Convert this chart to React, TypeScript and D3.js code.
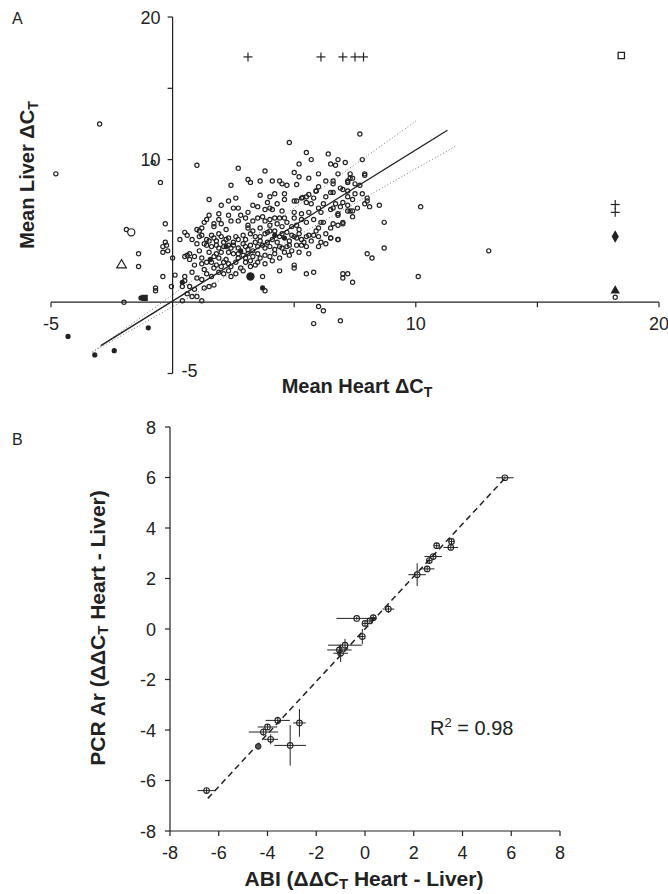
import * as d3 from 'd3';

// ---- Panel A: mean heart vs mean liver delta Ct ----
const openPoints: [number, number][] = [
  [4.8, 11.2], [5.5, 10.5], [6.4, 10.4], [5.7, 10.0], [5.2, 9.7], [6.5, 9.7], [6.7, 9.6], [7.1, 9.8],
  [1.0, 9.6], [2.7, 9.4], [3.8, 9.2], [5.0, 9.1], [6.0, 9.0], [7.3, 9.0], [3.1, 8.6], [3.2, 8.4],
  [3.6, 8.5], [4.1, 8.5], [4.4, 8.5], [4.5, 8.3], [6.3, 8.5], [6.6, 8.5], [7.2, 8.5], [2.4, 8.2],
  [4.7, 8.2], [6.0, 8.1], [6.5, 7.7], [6.6, 7.7], [7.0, 7.9], [5.9, 7.8], [3.6, 7.5], [4.0, 7.4],
  [4.2, 7.6], [4.6, 7.6], [4.6, 7.2], [1.5, 7.2], [2.3, 7.1], [2.6, 7.3], [3.3, 6.8], [3.5, 6.7],
  [2.7, 6.6], [3.8, 6.5], [4.0, 6.6], [4.1, 6.5], [5.0, 7.1], [5.1, 7.1], [5.3, 7.3], [5.5, 7.4],
  [5.5, 7.0], [5.8, 7.3], [5.7, 6.9], [6.2, 6.9], [6.7, 6.9], [7.0, 7.0], [7.2, 6.8], [7.3, 6.4],
  [5.0, 6.3], [5.3, 6.2], [6.1, 6.3], [6.5, 6.5], [6.8, 6.1], [1.9, 6.2], [2.3, 6.1], [1.5, 6.1],
  [1.4, 5.8], [1.3, 5.6], [1.7, 5.5], [2.0, 5.5], [2.4, 5.7], [2.7, 5.7], [3.1, 5.4], [3.1, 5.2],
  [3.3, 5.7], [3.5, 5.9], [3.7, 6.0], [3.8, 5.7], [4.0, 5.8], [4.2, 5.9], [4.4, 5.9], [4.6, 5.9],
  [4.7, 5.6], [4.9, 5.3], [5.1, 5.4], [5.5, 5.6], [5.8, 5.8], [6.1, 5.6], [6.2, 5.6], [6.6, 5.5],
  [7.0, 5.5], [1.0, 5.1], [0.5, 4.9], [0.6, 4.7], [0.3, 4.4], [1.1, 4.6], [1.2, 4.7], [1.4, 4.4],
  [1.5, 4.3], [1.7, 4.5], [1.8, 4.3], [2.0, 4.6], [2.3, 4.5], [2.5, 4.2], [2.7, 4.4], [2.9, 4.7],
  [3.2, 4.8], [3.3, 5.0], [3.4, 4.6], [3.6, 4.6], [3.8, 4.8], [3.9, 4.9], [4.0, 5.0], [4.2, 5.0],
  [4.4, 4.6], [4.5, 4.8], [4.7, 4.9], [4.8, 4.3], [5.0, 4.6], [5.1, 4.5], [5.3, 4.4], [5.5, 4.6],
  [5.6, 4.7], [5.8, 4.7], [6.0, 4.6], [6.1, 4.2], [6.3, 4.1], [6.5, 4.5], [6.8, 4.4], [6.0, 3.9],
  [1.3, 4.1], [1.4, 4.0], [1.6, 3.9], [1.8, 4.0], [1.9, 3.8], [2.1, 3.9], [2.3, 4.0], [2.4, 3.8],
  [2.5, 4.0], [2.7, 3.8], [3.0, 3.9], [3.2, 4.0], [3.5, 3.9], [3.7, 4.0], [3.8, 3.8], [4.0, 3.9],
  [4.2, 3.7], [4.5, 3.8], [4.7, 3.9], [4.9, 3.6], [5.1, 4.0], [5.3, 4.0], [5.5, 3.9], [4.6, 3.5],
  [1.8, 3.4], [2.0, 3.5], [2.3, 3.5], [2.5, 3.4], [2.7, 3.4], [2.9, 3.3], [3.1, 3.4], [3.3, 3.2],
  [3.5, 3.4], [3.8, 3.3], [4.0, 3.2], [4.2, 3.4], [4.4, 3.1], [0.5, 3.2], [0.7, 3.4], [0.9, 3.2],
  [1.2, 3.1], [1.7, 3.2], [0.9, 2.6], [1.2, 2.7], [1.4, 2.8], [1.6, 2.8], [1.8, 2.6], [2.0, 2.5],
  [2.3, 2.7], [2.4, 2.5], [2.6, 2.8], [2.8, 2.4], [3.0, 2.8], [3.2, 2.9], [3.5, 2.8], [3.8, 2.7],
  [3.2, 2.5], [1.9, 2.1], [2.1, 2.0], [2.3, 2.2], [2.6, 2.0], [2.4, 1.8], [2.9, 2.2], [5.0, 2.6],
  [5.0, 2.4], [4.4, 2.2], [0.8, 2.1], [1.4, 2.0], [1.6, 1.8], [1.2, 1.6], [1.0, 1.7], [0.5, 1.8],
  [0.5, 1.5], [0.4, 1.1], [0.7, 1.1], [0.9, 0.9], [1.3, 1.0], [1.5, 1.1], [1.7, 1.2], [0.6, 0.6],
  [1.0, 0.4], [1.2, 0.1], [0.8, 0.4], [0.4, 0.1], [3.7, 1.8], [3.8, 0.8], [5.5, 2.0], [5.8, 2.1],
  [0.1, 1.9], [0.0, 3.1], [0.6, 3.3], [1.1, 5.0], [1.2, 5.2], [1.9, 5.8], [1.7, 5.3],
  [2.1, 4.2], [2.2, 4.4], [2.6, 4.6], [2.9, 4.1], [3.0, 4.4], [3.1, 3.7], [3.3, 3.6], [3.4, 4.2],
  [3.6, 4.3], [3.9, 4.2], [4.1, 4.4], [4.3, 4.2], [4.4, 3.9], [4.8, 4.0], [4.9, 4.7], [5.2, 4.8],
  [5.4, 4.2], [5.7, 4.3], [5.9, 5.0], [5.2, 5.1], [4.5, 5.3], [4.3, 5.5], [4.0, 5.4], [3.6, 5.2],
  [3.0, 5.9], [2.8, 6.1], [2.2, 5.1], [1.9, 4.8], [1.6, 4.7], [2.7, 3.1], [3.0, 3.1], [3.6, 3.1],
  [1.9, 3.1], [2.2, 3.0], [1.5, 3.5], [1.1, 3.6], [1.0, 4.1], [0.8, 4.4], [0.7, 3.0], [1.3, 2.3],
  [1.7, 2.4], [2.1, 2.8], [3.4, 2.6], [4.1, 2.9], [4.8, 3.3], [5.2, 3.5], [5.6, 3.4], [6.3, 4.8],
  [6.5, 5.2], [6.0, 5.2], [5.3, 5.8], [5.0, 5.9], [5.6, 6.3], [6.0, 6.6], [4.5, 6.4], [4.3, 6.9],
  [3.9, 7.0], [3.1, 6.3], [2.5, 6.6], [2.0, 6.8], [6.3, 7.4], [6.9, 8.0], [5.2, 8.8], [5.6, 8.7],
  [5.1, 8.25], [5.35, 7.35], [5.6, 7.55], [5.9, 7.8],
  [7.7, 11.8], [6.8, 10.0], [7.8, 10.0], [6.8, 9.0], [7.9, 9.0], [7.9, 8.9], [7.3, 8.7], [7.4, 8.7],
  [7.2, 8.4], [7.5, 8.3], [6.6, 8.3], [7.7, 8.2], [7.2, 7.8], [7.5, 7.6], [7.8, 7.6], [7.2, 7.4],
  [7.4, 7.2], [8.0, 7.3], [6.6, 6.6], [6.9, 6.7], [7.2, 6.4], [7.4, 6.4], [7.6, 6.6], [7.9, 6.9],
  [8.0, 7.1], [8.1, 6.7], [7.4, 6.0], [6.8, 6.2], [8.5, 6.8], [10.2, 6.7], [6.8, 5.4], [7.0, 5.6],
  [8.7, 5.6], [6.5, 4.5], [6.8, 4.4], [8.7, 3.8], [8.0, 3.4], [8.2, 3.1], [13.0, 3.6], [7.0, 2.0],
  [7.2, 2.0], [7.0, 1.7], [7.4, 1.4], [10.1, 1.8], [6.9, -1.3], [6.0, -0.3], [6.2, -0.6], [5.8, -1.5],
  [-0.5, 8.4], [-0.3, 5.5], [-1.9, 5.1], [-1.4, 3.4], [-1.4, 2.5], [-0.4, 1.8], [-0.7, 1.0], [-0.7, 0.8],
  [-0.05, 1.1], [-2.0, 0.0], [-0.3, 4.2], [-0.25, 4.0], [-0.4, 3.9], [-0.2, 3.6], [-0.4, 3.5],
  [-3.0, 12.5], [-4.8, 9.0], [-0.8, 9.8], [18.2, 0.35],
];

const filledPoints: [number, number][] = [
  [-4.3, -2.4], [-3.2, -3.7], [-2.4, -3.4], [-1.0, -1.8], [0.4, 1.4], [1.55, 3.0],
  [4.2, 4.7], [4.6, 4.5], [3.7, 1.0], [-1.3, 0.3], [2.8, 3.6], [2.2, 3.9],
];
const bigFilled: [number, number][] = [[3.2, 1.8]];
const bigOpen: [number, number][] = [[-1.7, 4.9]];
const openTriangle: [number, number][] = [[-2.1, 2.6]];
const filledSquare: [number, number][] = [[-1.15, 0.3]];
const openSquare: [number, number][] = [[18.45, 17.3]];
const filledDiamond: [number, number][] = [[18.2, 4.6]];
const filledTriangle: [number, number][] = [[18.2, 0.8]];
const plusPoints: [number, number][] = [
  [3.1, 17.2], [6.1, 17.2], [7.0, 17.2], [7.5, 17.2], [7.85, 17.2], [18.2, 6.85], [18.2, 6.3],
];

// fitted line and its bounds (x0, y0, x1, y1)
const fitA = { slope: 1.06, intercept: 0.08, from: -2.95, to: 11.3 };
const boundsA: [number, number, number, number][] = [
  [-3.3, -3.5, 10.0, 12.7],
  [-3.3, -3.5, 11.7, 11.0],
];
const ticksA = [-5, 0, 5, 10, 15, 20];
const xLabelsA = [-5, 10, 20];
const yLabelsA = [20, 10];

// ---- Panel B: ABI vs PCR array ddCt (x, y, xErr, yErr) ----
const abiPcr: [number, number, number, number][] = [
  [-6.5, -6.4, 0.37, 0.1], [-4.0, -3.88, 0.4, 0.1], [-4.17, -4.08, 0.6, 0.15],
  [-3.87, -4.37, 0.3, 0.2], [-3.58, -3.62, 0.5, 0.15], [-3.07, -4.61, 0.65, 0.8],
  [-2.69, -3.72, 0.26, 0.55], [5.74, 5.99, 0.36, 0.05], [3.55, 3.47, 0.1, 0.12],
  [3.52, 3.23, 0.3, 0.1], [2.94, 3.3, 0.1, 0.12], [2.8, 2.87, 0.36, 0.1],
  [2.64, 2.71, 0.1, 0.12], [2.55, 2.38, 0.3, 0.1], [2.14, 2.15, 0.36, 0.45],
  [0.96, 0.79, 0.24, 0.15], [0.34, 0.45, 0.1, 0.1], [0.2, 0.32, 0.1, 0.1],
  [0.0, 0.22, 0.1, 0.1], [-0.34, 0.42, 0.83, 0.05], [-0.11, -0.3, 0.1, 0.3],
  [-0.82, -0.64, 0.7, 0.25], [-1.05, -0.83, 0.5, 0.2], [-1.0, -0.96, 0.3, 0.35],
];
const abiFilled: [number, number][] = [[-4.38, -4.65]];
const fitB = { slope: 1.04, intercept: 0.0, from: -6.45, to: 5.75 };
const ticksB = [-8, -6, -4, -2, 0, 2, 4, 6, 8];

const FONT = '"Liberation Sans", Arial, Helvetica, sans-serif';
const INK = '#222';

export default function App() {
  const W = 668;
  const H = 894;

  const xA = d3.scaleLinear().domain([-5, 20]).range([51, 659]);
  const yA = d3.scaleLinear().domain([-5, 20]).range([373.5, 17]);
  const xB = d3.scaleLinear().domain([-8, 8]).range([170, 560]);
  const yB = d3.scaleLinear().domain([-8, 8]).range([831, 427]);

  const tri = d3.symbol().type(d3.symbolTriangle).size(40)();
  const diam = d3.symbol().type(d3.symbolDiamond).size(45)();
  const sq = d3.symbol().type(d3.symbolSquare).size(40)();

  const fitLine = (f: { slope: number; intercept: number; from: number; to: number }, xs: any, ys: any) =>
    d3.line()([
      [xs(f.from), ys(f.intercept + f.slope * f.from)],
      [xs(f.to), ys(f.intercept + f.slope * f.to)],
    ]) as string;

  return (
    <svg width={W} height={H} style={{ position: 'absolute', left: 0, top: 0, background: '#fff' }}
      fontFamily={FONT}>
      {/* ============ Panel A ============ */}
      <text x={12} y={24} fontSize={16} fill={INK}>A</text>

      {/* axes */}
      <line x1={xA(-5)} x2={xA(20)} y1={yA(0)} y2={yA(0)} stroke={INK} strokeWidth={1.2} />
      <line x1={xA(0)} x2={xA(0)} y1={yA(-5)} y2={yA(20)} stroke={INK} strokeWidth={1.2} />
      {ticksA.filter(t => t !== 0).map(t => (
        <line key={'xt' + t} x1={xA(t)} x2={xA(t)} y1={yA(0)} y2={yA(0) + 5} stroke={INK} strokeWidth={1.2} />
      ))}
      {ticksA.filter(t => t !== 0).map(t => (
        <line key={'yt' + t} x1={xA(0) - 5} x2={xA(0)} y1={yA(t)} y2={yA(t)} stroke={INK} strokeWidth={1.2} />
      ))}
      {xLabelsA.map(t => (
        <text key={'xl' + t} x={xA(t)} y={yA(0) + 28} textAnchor="middle" fontSize={18} fill={INK}>{t}</text>
      ))}
      {yLabelsA.map(t => (
        <text key={'yl' + t} x={xA(0) - 12} y={yA(t) + 6.5} textAnchor="end" fontSize={18} fill={INK}>{t}</text>
      ))}
      <text x={xA(0) + 9} y={yA(-5) + 3} fontSize={18} fill={INK}>-5</text>

      {/* fit + bounds */}
      {boundsA.map((b, i) => (
        <line key={'b' + i} x1={xA(b[0])} y1={yA(b[1])} x2={xA(b[2])} y2={yA(b[3])}
          stroke="#777" strokeWidth={1} strokeDasharray="1 2.2" />
      ))}
      <path d={fitLine(fitA, xA, yA)} stroke={INK} strokeWidth={1.4} fill="none" />

      {/* points */}
      {openPoints.map((p, i) => (
        <circle key={'o' + i} cx={xA(p[0])} cy={yA(p[1])} r={2.1} fill="none" stroke={INK} strokeWidth={1.2} />
      ))}
      {filledPoints.map((p, i) => (
        <circle key={'f' + i} cx={xA(p[0])} cy={yA(p[1])} r={2.6} fill={INK} />
      ))}
      {bigFilled.map((p, i) => (
        <circle key={'bf' + i} cx={xA(p[0])} cy={yA(p[1])} r={4.2} fill={INK} />
      ))}
      {bigOpen.map((p, i) => (
        <circle key={'bo' + i} cx={xA(p[0])} cy={yA(p[1])} r={3.6} fill="#fff" stroke={INK} strokeWidth={1.2} />
      ))}
      {openTriangle.map((p, i) => (
        <path key={'ot' + i} d={tri} transform={`translate(${xA(p[0])},${yA(p[1])})`} fill="#fff" stroke={INK} strokeWidth={1.2} />
      ))}
      {filledTriangle.map((p, i) => (
        <path key={'ft' + i} d={tri} transform={`translate(${xA(p[0])},${yA(p[1])})`} fill={INK} />
      ))}
      {filledSquare.map((p, i) => (
        <path key={'fs' + i} d={sq} transform={`translate(${xA(p[0])},${yA(p[1])})`} fill={INK} />
      ))}
      {openSquare.map((p, i) => (
        <path key={'os' + i} d={sq} transform={`translate(${xA(p[0])},${yA(p[1])})`} fill="#fff" stroke={INK} strokeWidth={1.3} />
      ))}
      {filledDiamond.map((p, i) => (
        <path key={'fd' + i} d={diam} transform={`translate(${xA(p[0])},${yA(p[1])})`} fill={INK} />
      ))}
      {plusPoints.map((p, i) => (
        <g key={'p' + i} transform={`translate(${xA(p[0])},${yA(p[1])})`} stroke={INK} strokeWidth={1.2}>
          <line x1={-4.5} x2={4.5} y1={0} y2={0} />
          <line x1={0} x2={0} y1={-4.5} y2={4.5} />
        </g>
      ))}

      {/* axis titles */}
      <text x={357} y={393} textAnchor="middle" fontSize={20} fontWeight="bold" fill={INK}>
        Mean Heart  ΔC<tspan fontSize={14} dy={4}>T</tspan>
      </text>
      <text transform="translate(34,175) rotate(-90)" textAnchor="middle" fontSize={20} fontWeight="bold" fill={INK}>
        Mean Liver  ΔC<tspan fontSize={14} dy={4}>T</tspan>
      </text>

      {/* ============ Panel B ============ */}
      <text x={12} y={445} fontSize={16} fill={INK}>B</text>

      <line x1={xB(-8)} x2={xB(8)} y1={yB(-8)} y2={yB(-8)} stroke={INK} strokeWidth={1.2} />
      <line x1={xB(-8)} x2={xB(-8)} y1={yB(-8)} y2={yB(8)} stroke={INK} strokeWidth={1.2} />
      {ticksB.map(t => (
        <g key={'bx' + t}>
          <line x1={xB(t)} x2={xB(t)} y1={yB(-8)} y2={yB(-8) + 5} stroke={INK} strokeWidth={1.2} />
          <text x={xB(t)} y={yB(-8) + 28} textAnchor="middle" fontSize={18} fill={INK}>{t}</text>
        </g>
      ))}
      {ticksB.map(t => (
        <g key={'by' + t}>
          <line x1={xB(-8) - 5} x2={xB(-8)} y1={yB(t)} y2={yB(t)} stroke={INK} strokeWidth={1.2} />
          <text x={xB(-8) - 14} y={yB(t) + 6.5} textAnchor="end" fontSize={18} fill={INK}>{t}</text>
        </g>
      ))}

      <path d={fitLine(fitB, xB, yB)} stroke={INK} strokeWidth={1.5} strokeDasharray="6 4" fill="none" />

      {abiPcr.map((d, i) => (
        <g key={'e' + i} stroke={INK} strokeWidth={1}>
          <line x1={xB(d[0] - d[2])} x2={xB(d[0] + d[2])} y1={yB(d[1])} y2={yB(d[1])} />
          <line x1={xB(d[0])} x2={xB(d[0])} y1={yB(d[1] - d[3])} y2={yB(d[1] + d[3])} />
          <circle cx={xB(d[0])} cy={yB(d[1])} r={2.8} fill="none" strokeWidth={1.1} />
        </g>
      ))}
      {abiFilled.map((p, i) => (
        <circle key={'af' + i} cx={xB(p[0])} cy={yB(p[1])} r={2.8} fill="#555" stroke={INK} />
      ))}

      <text x={430} y={735} fontSize={20} fill={INK}>
        R<tspan fontSize={13} dy={-8}>2</tspan><tspan dy={8}> = 0.98</tspan>
      </text>

      <text x={364} y={886} textAnchor="middle" fontSize={21} fontWeight="bold" fill={INK}>
        ABI (ΔΔC<tspan fontSize={15} dy={3}>T</tspan><tspan dy={-3}> Heart - Liver)</tspan>
      </text>
      <text transform="translate(105,628) rotate(-90)" textAnchor="middle" fontSize={21} fontWeight="bold" fill={INK}>
        PCR Ar (ΔΔC<tspan fontSize={15} dy={3}>T</tspan><tspan dy={-3}> Heart - Liver)</tspan>
      </text>
    </svg>
  );
}
